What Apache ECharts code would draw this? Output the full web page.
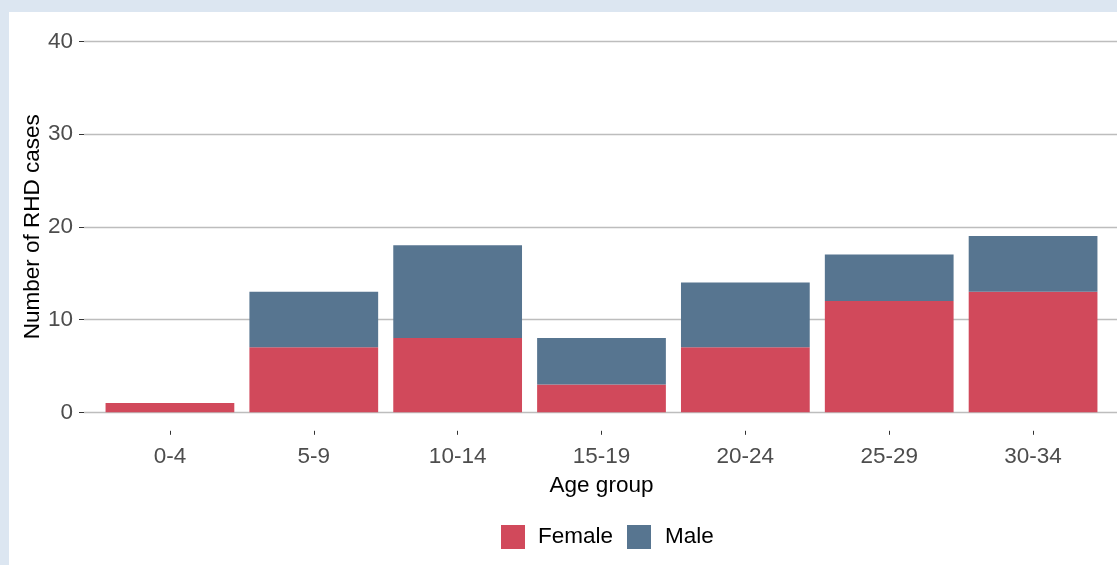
<!DOCTYPE html>
<html>
<head>
<meta charset="utf-8">
<script src="https://cdn.jsdelivr.net/npm/echarts@6/dist/echarts.min.js"></script>
<style>
  html, body { margin: 0; padding: 0; background: #dce6f1; }
  #panel { position: absolute; left: 9px; top: 12px; width: 1108px; height: 553px; background: #ffffff; }
  #chart { position: absolute; left: 0; top: 0; width: 1117px; height: 565px; }
</style>
</head>
<body>
<div id="panel"></div>
<div id="chart"></div>
<script>
// age groups and counts
const ageGroups = ['0-4', '5-9', '10-14', '15-19', '20-24', '25-29', '30-34'];
const female = [1, 7, 8, 3, 7, 12, 13];
const male = [0, 6, 10, 5, 7, 5, 6];

const font = 'Liberation Sans, Arial, sans-serif';
const fs = 22.5;

const myChart = echarts.init(document.getElementById('chart'));

const option = {
    animation: false,
    textStyle: { fontFamily: font },
    legend: {
        top: 520,
        left: 496,
        itemWidth: 24,
        itemHeight: 24,
        itemGap: 14,
        icon: 'rect',
        textStyle: { fontSize: fs, color: '#000', fontFamily: font, padding: [0, 0, 0, 8] },
        data: [
            { name: 'Female' },
            { name: 'Male', textStyle: { padding: [0, 0, 0, 9] } }
        ]
    },
    grid: [
        // background grid: y axis + gridlines across the whole panel
        { left: 84, right: 0, top: 41.3, bottom: 152.7 },
        // bars sit here; bottom edge is the expanded panel edge (y = -2)
        { left: 98, right: 12, top: 41.3, bottom: 134.2 }
    ],
    xAxis: [
        { type: 'value', gridIndex: 0, show: false, min: 0, max: 1 },
        {
            type: 'category',
            gridIndex: 1,
            data: ageGroups,
            name: 'Age group',
            nameLocation: 'middle',
            nameGap: 43,
            nameMoveOverlap: false,
            nameTextStyle: { fontSize: fs, color: '#000' },
            axisLine: { show: false, onZero: false },
            axisTick: { show: true, alignWithLabel: true, length: 4, lineStyle: { color: '#333' } },
            axisLabel: { fontSize: fs, color: '#4d4d4d', margin: 14 }
        }
    ],
    yAxis: [
        {
            type: 'value',
            gridIndex: 0,
            min: 0,
            max: 40,
            interval: 10,
            name: 'Number of RHD cases',
            nameLocation: 'middle',
            nameGap: 40,
            nameMoveOverlap: false,
            nameTextStyle: { fontSize: fs, color: '#000' },
            axisLine: { show: false },
            axisTick: { show: true, length: 5, lineStyle: { color: '#333' } },
            axisLabel: { fontSize: fs, color: '#4d4d4d', margin: 11 },
            splitLine: { show: true, lineStyle: { color: '#bdbdbd', width: 1.3 } }
        },
        { type: 'value', gridIndex: 1, min: -2, max: 40, show: false }
    ],
    series: [
        {
            name: 'Female',
            type: 'bar',
            stack: 'cases',
            xAxisIndex: 1,
            yAxisIndex: 1,
            barCategoryGap: '10.5%',
            data: female,
            itemStyle: { color: '#d1495b' }
        },
        {
            name: 'Male',
            type: 'bar',
            stack: 'cases',
            xAxisIndex: 1,
            yAxisIndex: 1,
            data: male,
            itemStyle: { color: '#577590' }
        }
    ]
};

myChart.setOption(option);
</script>
</body>
</html>
